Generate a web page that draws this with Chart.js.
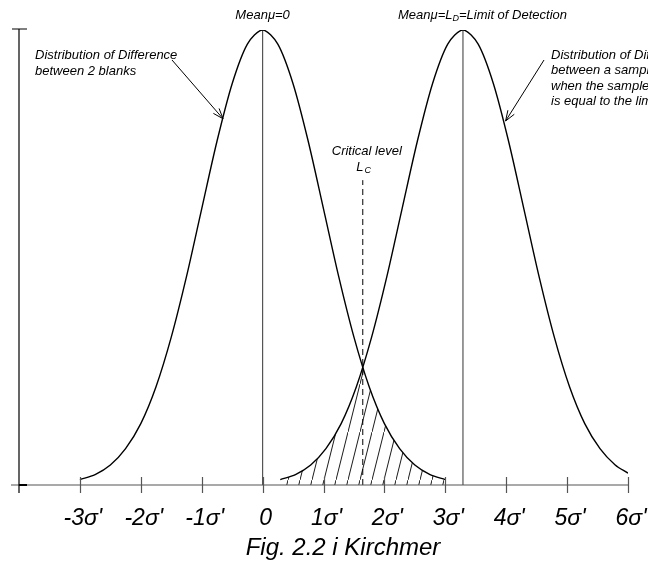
<!DOCTYPE html>
<html>
<head>
<meta charset="utf-8">
<script src="https://cdn.jsdelivr.net/npm/chart.js@4"></script>
<style>
  html, body { margin: 0; padding: 0; background: #fff; }
  #wrap { width: 648px; height: 567px; }
</style>
</head>
<body>
<div id="wrap"><canvas id="kirchmer" width="648" height="567"></canvas></div>
<script>
// Tick positions (in sigma') and their labels
const tickValues = [-3, -2, -1, 0, 1, 2, 3, 4, 5, 6];
const tickLabels = ["-3σ'", "-2σ'", "-1σ'", "0", "1σ'", "2σ'", "3σ'", "4σ'", "5σ'", "6σ'"];

// Distribution of difference between 2 blanks (mean 0), relative height
const blankX = [-3, -2.75, -2.5, -2.25, -2, -1.75, -1.5, -1.25, -1, -0.75, -0.5, -0.25, 0,
  0.25, 0.5, 0.75, 1, 1.25, 1.5, 1.75, 2, 2.25, 2.5, 2.75, 3];
const blankY = [0.012, 0.023, 0.044, 0.08, 0.135, 0.216, 0.325, 0.458, 0.607, 0.755, 0.882, 0.969, 1,
  0.969, 0.882, 0.755, 0.607, 0.458, 0.325, 0.216, 0.135, 0.08, 0.044, 0.023, 0.012];

// Distribution of difference between a sample and a blank (mean L_D)
const sampleX = [0.29, 0.54, 0.79, 1.04, 1.29, 1.54, 1.79, 2.04, 2.29, 2.54, 2.79, 3.04, 3.29,
  3.54, 3.79, 4.04, 4.29, 4.54, 4.79, 5.04, 5.29, 5.54, 5.79, 6];
const sampleY = [0.012, 0.023, 0.044, 0.08, 0.135, 0.216, 0.325, 0.458, 0.607, 0.755, 0.882, 0.969, 1,
  0.969, 0.882, 0.755, 0.607, 0.458, 0.325, 0.216, 0.135, 0.08, 0.044, 0.026];

// Key levels
const meanBlank = 0;
const limitDetection = 3.29;
const criticalLevel = 1.645;
const crossingY = 0.258;
const criticalTop = 0.67;

const toPoints = (xs, ys) => xs.map((x, i) => ({ x: x, y: ys[i] }));

// overlap area (below both curves) -> hatched
const overlap = [
  ...toPoints(sampleX, sampleY).filter(p => p.x < criticalLevel),
  { x: criticalLevel, y: crossingY },
  ...toPoints(blankX, blankY).filter(p => p.x > criticalLevel)
];

// diagonal hatch pattern
function makeHatch() {
  const c = document.createElement("canvas");
  c.width = 12;
  c.height = 48;
  const g = c.getContext("2d");
  g.strokeStyle = "#000";
  g.lineWidth = 0.9;
  g.beginPath();
  g.moveTo(-1, 52);
  g.lineTo(13, -4);
  g.stroke();
  return g.createPattern(c, "repeat");
}

const font = (s) => "italic " + s + "px 'Liberation Sans', Arial, sans-serif";

// axes, ticks, labels and notes
const decorations = {
  id: "decorations",
  afterDatasetsDraw(chart) {
    const ctx = chart.ctx;
    const xs = chart.scales.x;
    const ys = chart.scales.y;
    const y0 = ys.getPixelForValue(0);
    const yTop = ys.getPixelForValue(1);
    const left = xs.getPixelForValue(-4);
    const right = xs.getPixelForValue(6);

    ctx.save();
    // x axis
    ctx.strokeStyle = "#555";
    ctx.lineWidth = 1.2;
    ctx.beginPath();
    ctx.moveTo(left - 8, y0);
    ctx.lineTo(right, y0);
    ctx.stroke();
    tickValues.forEach(v => {
      const px = Math.round(xs.getPixelForValue(v)) + 0.5;
      ctx.beginPath();
      ctx.moveTo(px, y0 - 8);
      ctx.lineTo(px, y0 + 8);
      ctx.stroke();
    });

    // y axis
    ctx.strokeStyle = "#000";
    ctx.lineWidth = 1.2;
    ctx.beginPath();
    ctx.moveTo(left, yTop - 1);
    ctx.lineTo(left, y0 + 8);
    ctx.moveTo(left - 7, yTop - 1);
    ctx.lineTo(left + 8, yTop - 1);
    ctx.stroke();
    ctx.lineWidth = 2;
    ctx.beginPath();
    ctx.moveTo(left, y0);
    ctx.lineTo(left + 8, y0);
    ctx.stroke();

    // tick labels
    ctx.fillStyle = "#000";
    ctx.font = font(23);
    ctx.textAlign = "center";
    ctx.textBaseline = "middle";
    tickValues.forEach((v, i) => {
      ctx.fillText(tickLabels[i], xs.getPixelForValue(v) + 3, y0 + 34);
    });
    ctx.font = font(24);
    ctx.fillText("Fig. 2.2 i Kirchmer", 343, y0 + 63);

    // notes
    const lcX = xs.getPixelForValue(criticalLevel);
    const lcY = ys.getPixelForValue(criticalTop);
    ctx.font = font(13);
    ctx.fillText("Meanμ=0", xs.getPixelForValue(meanBlank), 15);
    ctx.fillText("Critical level", lcX + 4, lcY - 29);
    ctx.fillText("L", lcX - 3, lcY - 13);
    ctx.font = font(9);
    ctx.fillText("C", lcX + 5, lcY - 10);

    ctx.textAlign = "left";
    let tx = 398;
    const parts = [["Meanμ=L", 13, 15], ["D", 9, 18], ["=Limit of Detection", 13, 15]];
    parts.forEach(p => {
      ctx.font = font(p[1]);
      ctx.fillText(p[0], tx, p[2]);
      tx += ctx.measureText(p[0]).width;
    });

    ctx.font = font(13);
    ["Distribution of Difference", "between 2 blanks"].forEach((t, i) => ctx.fillText(t, 35, 55 + i * 16));
    ["Distribution of Difference", "between a sample and a blank", "when the sample concentration",
      "is equal to the limit of detection"].forEach((t, i) => ctx.fillText(t, 551, 55 + i * 15.5));

    // arrows
    const arrow = (x1, y1, x2, y2) => {
      ctx.strokeStyle = "#000";
      ctx.lineWidth = 1;
      ctx.beginPath();
      ctx.moveTo(x1, y1);
      ctx.lineTo(x2, y2);
      const a = Math.atan2(y2 - y1, x2 - x1);
      [0.35, -0.35].forEach(d => {
        ctx.moveTo(x2, y2);
        ctx.lineTo(x2 - 11 * Math.cos(a + d), y2 - 11 * Math.sin(a + d));
      });
      ctx.stroke();
    };
    arrow(172, 60, xs.getPixelForValue(-0.65), ys.getPixelForValue(0.805));
    arrow(544, 60, xs.getPixelForValue(3.99), ys.getPixelForValue(0.8));
    ctx.restore();
  }
};

const curveStyle = {
  showLine: true,
  borderColor: "#000",
  borderWidth: 1.4,
  pointRadius: 0,
  tension: 0.3,
  fill: false
};

new Chart(document.getElementById("kirchmer"), {
  type: "scatter",
  data: {
    datasets: [
      { ...curveStyle, data: toPoints(blankX, blankY) },
      { ...curveStyle, data: toPoints(sampleX, sampleY) },
      {
        ...curveStyle,
        data: overlap,
        borderWidth: 0,
        borderColor: "rgba(0,0,0,0)",
        backgroundColor: makeHatch(),
        fill: "origin"
      },
      { ...curveStyle, tension: 0, borderColor: "#555", borderWidth: 1.2,
        data: [{ x: meanBlank, y: 0 }, { x: meanBlank, y: 1 }] },
      { ...curveStyle, tension: 0, borderColor: "#555", borderWidth: 1.2,
        data: [{ x: limitDetection, y: 0 }, { x: limitDetection, y: 1 }] },
      { ...curveStyle, tension: 0, borderWidth: 1, borderDash: [6, 4],
        data: [{ x: criticalLevel, y: 0 }, { x: criticalLevel, y: criticalTop }] }
    ]
  },
  options: {
    responsive: false,
    animation: false,
    layout: { padding: { left: 19, right: 20, top: 30, bottom: 82 } },
    plugins: { legend: { display: false }, tooltip: { enabled: false } },
    scales: {
      x: { type: "linear", min: -4, max: 6, display: false },
      y: { type: "linear", min: 0, max: 1, display: false }
    }
  },
  plugins: [decorations]
});
</script>
</body>
</html>
